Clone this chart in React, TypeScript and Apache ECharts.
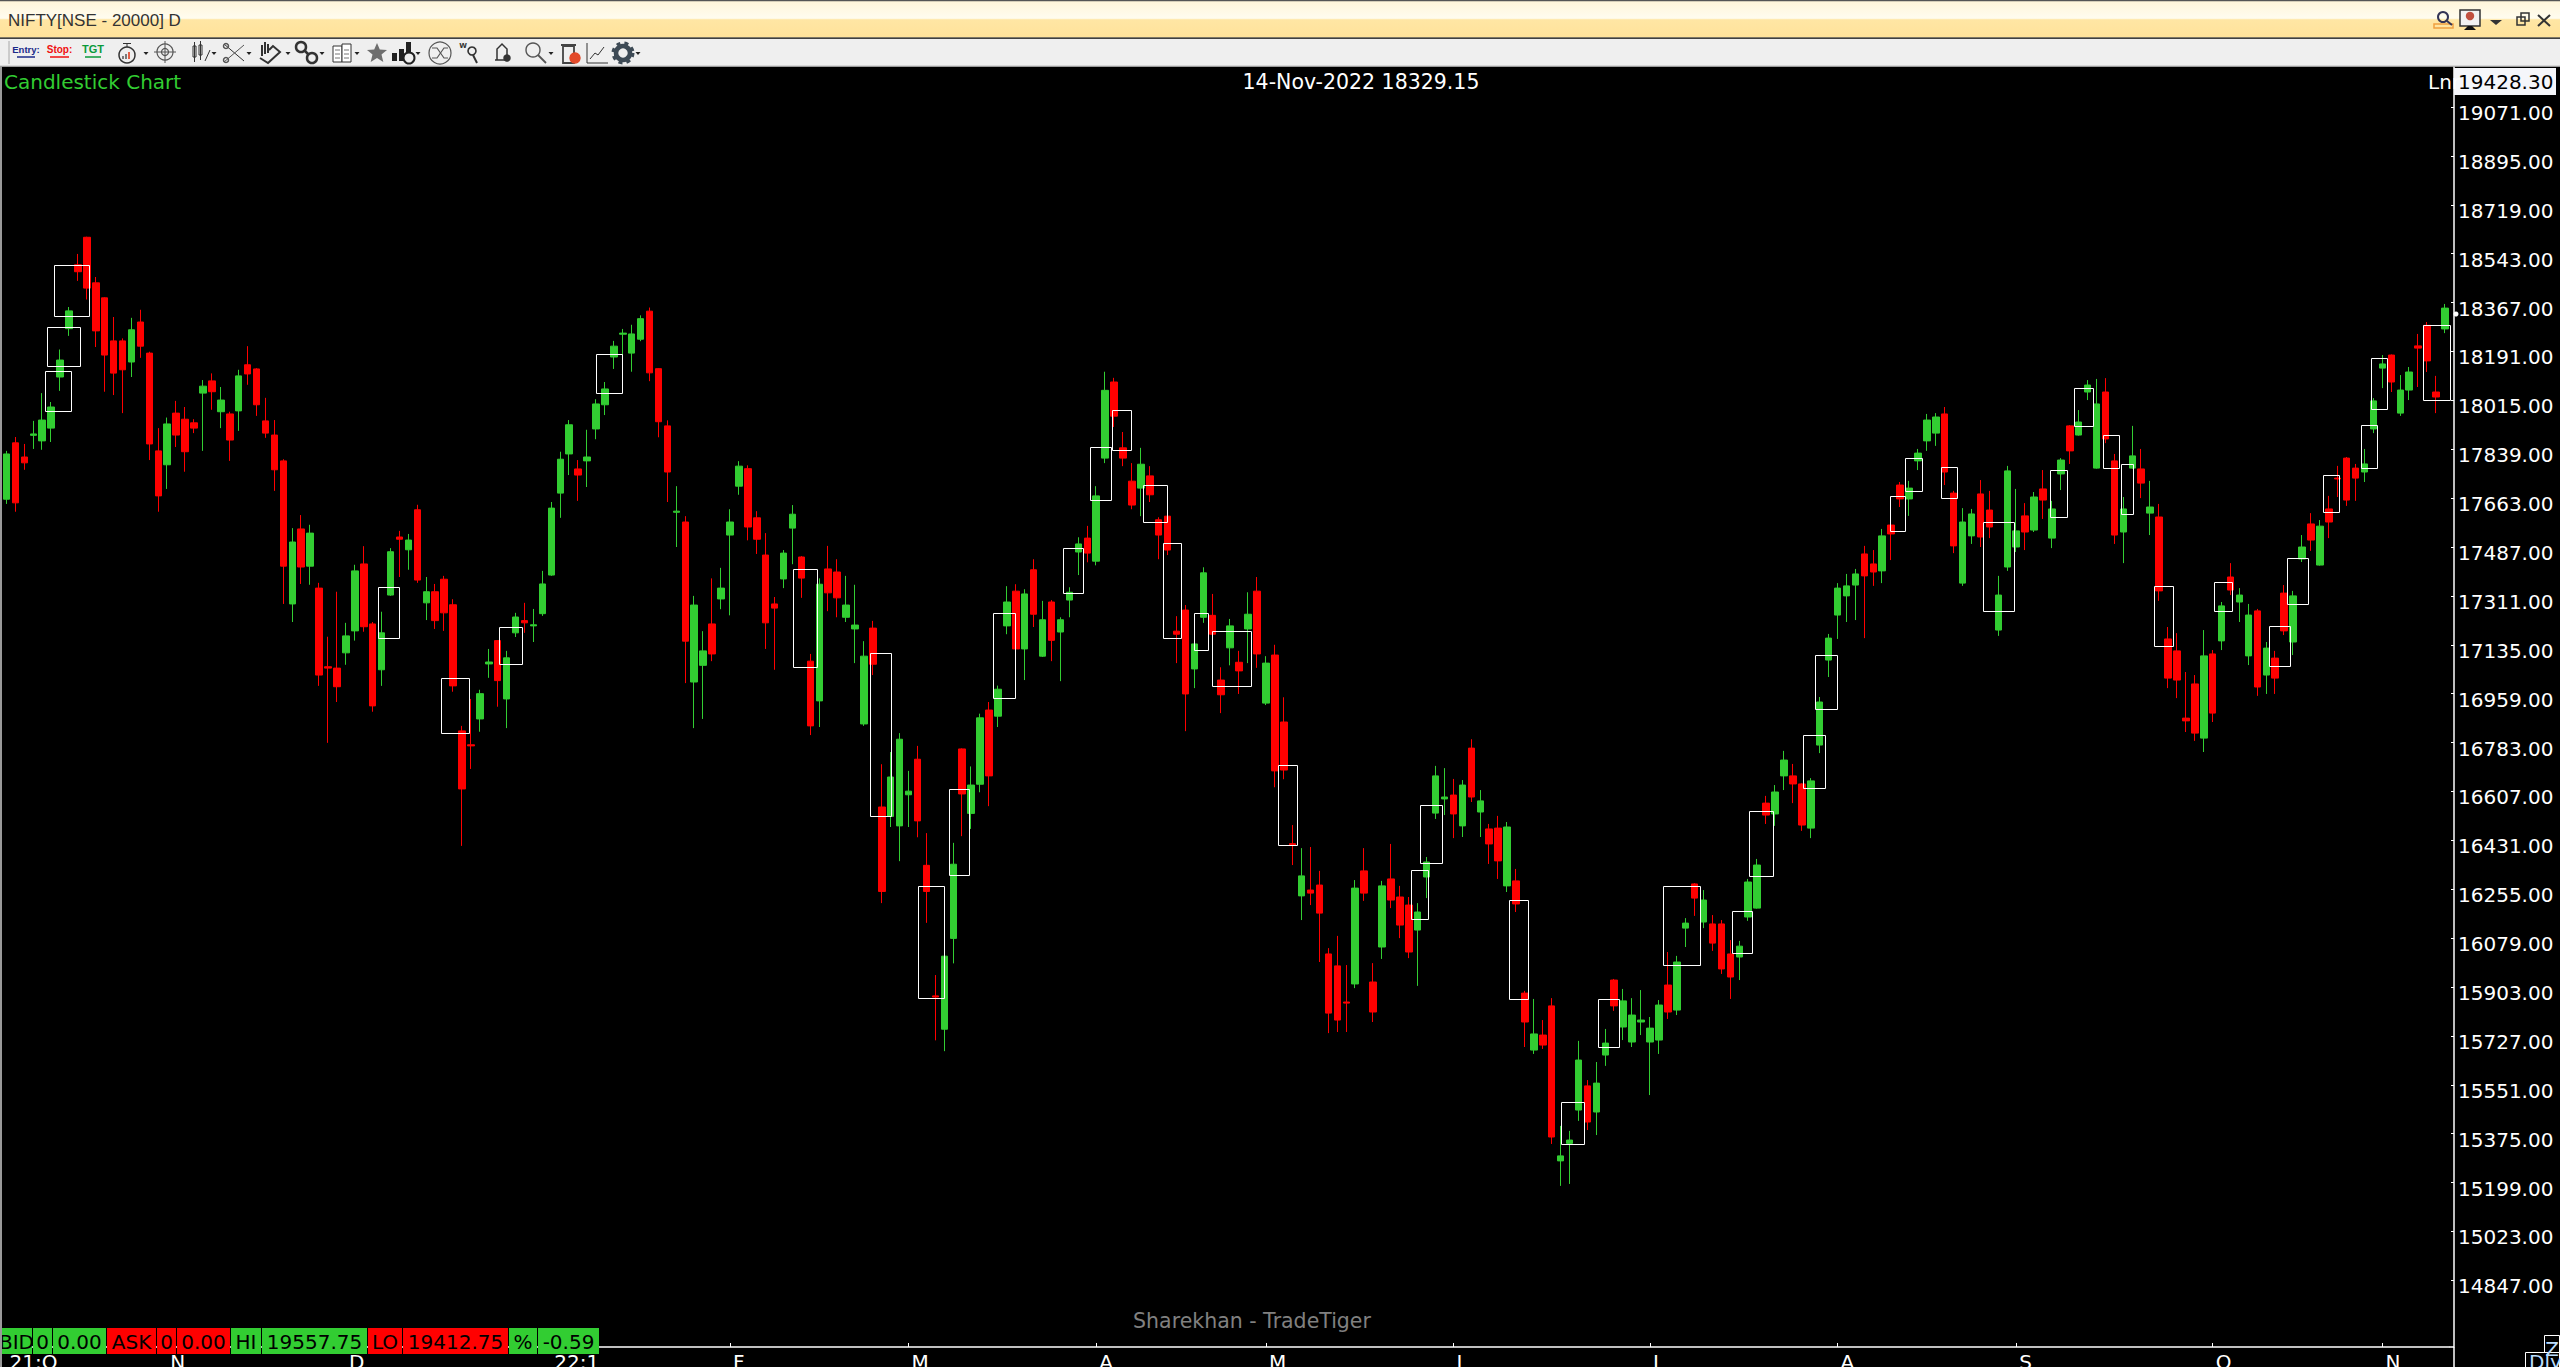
import React, { useEffect, useRef } from "react";
import * as echarts from "echarts";

const opens = [
17659,17862,17811,17889,17869,17915,18099,18273,18503,18602,18438,18384,18229,18229,18153,18297,18185,17833,17783,17969,
17947,17934,18041,18085,17974,17966,17977,18143,18128,17941,17890,17797,17282,17552,17418,17339,17056,17051,17106,17185,
17426,17210,17045,17314,17523,17477,17621,17286,17326,17371,17279,16825,16775,16868,17066,17150,16940,17178,17222,17203,
17247,17386,17681,17822,17768,17797,17912,17999,18171,18253,18185,18235,18336,18129,17923,17612,17577,17001,17061,17210,
17300,17530,17706,17769,17592,17458,17282,17372,17555,17451,17076,16933,17408,17397,17234,17192,16850,17195,16551,16517,
16483,16595,16723,16341,15871,15751,16078,16760,16528,16633,16900,16878,17203,17328,17120,17405,17094,17289,17181,17296,
17469,17519,17436,17807,18081,17844,17724,17699,17743,17585,17598,17184,17260,17048,17234,17241,17008,17124,17072,17192,
17328,16925,17098,16857,16419,16231,16252,16270,16022,15979,15849,15914,16321,15921,16047,16292,16227,16198,16108,16299,
16529,16580,16594,16483,16763,16533,16472,16475,16267,16285,15881,15676,15730,15835,15277,15340,15460,15547,15453,15658,
15928,15759,15705,15777,15705,15712,15910,15820,16115,16274,16137,16130,16130,16022,16011,16155,16187,16565,16526,16663,
16663,16634,16475,16774,17080,17242,17311,17350,17462,17426,17401,17566,17710,17660,17797,17869,17897,17966,17681,17357,
17527,17678,17620,17188,17415,17487,17599,17548,17696,17519,17750,17923,17890,18045,17771,18045,17797,17541,17771,17768,
17609,17595,17156,17113,16871,16994,16799,17102,17149,17379,17289,17095,17257,17026,17087,17321,17145,17444,17570,17422,
17624,17735,17807,17771,17757,17912,18131,18178,17969,18052,18211,18285,18045,18272];

const closes = [
17822,17646,17790,17894,17944,17991,18160,18337,18478,18419,18265,18178,18113,18125,18269,18210,17858,17671,17930,17890,
17830,17915,18066,18046,18016,17872,18103,18110,17999,17897,17765,17418,17505,17415,17537,17026,17051,16984,17167,17401,
17200,16915,17178,17470,17515,17512,17368,17326,17222,17250,16987,16616,16771,16959,17073,17006,17088,17235,17214,17207,
17354,17627,17803,17927,17746,17811,18002,18056,18210,18257,18254,18309,18114,17938,17757,17616,17148,17278,17113,17102,
17339,17577,17778,17559,17515,17214,17267,17465,17605,17375,16843,17353,17322,17304,17278,17206,17094,17065,16247,16659,
16795,16608,16501,16247,15867,16014,16345,16598,16630,16872,16663,16975,17289,17120,17318,17245,17225,17151,17225,17324,
17498,17465,17671,18051,17958,17807,17638,17785,17675,17530,17476,17173,16958,17138,17394,17173,16955,17203,17041,17245,
17102,17069,16681,16684,16414,16303,16241,16169,15809,15784,15845,16259,16241,15813,16267,16216,16126,16029,16173,16353,
16663,16587,16526,16630,16587,16573,16418,16357,16479,16202,15777,15734,15694,15363,15295,15352,15640,15417,15557,15701,
15835,15853,15802,15784,15755,15838,15813,15993,16133,16223,16216,16061,15968,15939,16050,16281,16342,16522,16605,16720,
16634,16486,16645,16929,17159,17339,17347,17390,17383,17397,17527,17534,17660,17699,17825,17944,17955,17757,17491,17577,
17606,17523,17559,17314,17761,17545,17541,17667,17656,17624,17800,17833,17937,18070,18002,17876,17530,17624,17815,17717,
17631,17329,17015,17008,16861,16817,17095,16889,17275,17332,17314,17242,16983,17123,17015,17185,17311,17487,17512,17562,
17577,17732,17656,17735,17786,18013,18146,18081,18052,18117,18203,18157,18027,18347];

const lows = [
17642,17614,17765,17840,17837,17865,18049,18247,18445,18378,18207,18046,18034,17969,18099,18168,17800,17614,17696,17847,
17758,17897,17833,17981,17915,17797,17905,18071,17959,17880,17689,17282,17217,17354,17351,16987,16782,16929,17063,17150,
17182,16894,16987,17311,17379,17405,17358,17224,17192,17185,16966,16411,16688,16822,17016,16912,16835,17163,17178,17145,
17239,17383,17592,17746,17653,17703,17875,17962,18128,18163,18118,18228,18084,17882,17649,17487,16997,16835,16868,17076,
17263,17241,17675,17511,17462,17120,17045,17339,17425,17304,16810,16839,17256,17234,17217,17069,16843,17026,16205,16479,
16356,16479,16442,16134,15711,15672,15988,16446,16472,16604,16554,16839,17173,17094,17008,17199,17091,17076,17004,17234,
17386,17432,17421,17789,17919,17778,17623,17598,17649,17443,17458,17069,16824,16979,17214,17148,16889,17061,16958,17069,
17052,16918,16622,16651,16342,16144,16198,15993,15737,15741,15741,15899,16213,15777,16004,16187,16079,16007,15907,16223,
16508,16522,16439,16443,16569,16443,16346,16292,16245,16173,15687,15662,15680,15338,15187,15194,15421,15388,15370,15619,
15817,15712,15687,15730,15514,15662,15788,15802,16047,16159,16115,16033,15950,15860,15928,16141,16185,16490,16483,16612,
16565,16465,16439,16745,17019,17156,17217,17224,17159,17347,17357,17440,17631,17599,17764,17833,17851,17710,17465,17347,
17498,17487,17519,17167,17401,17469,17476,17541,17588,17483,17692,17786,17888,18016,17769,17861,17498,17429,17769,17663,
17530,17293,16979,16943,16821,16789,16749,16857,17116,17314,17217,17062,16951,16958,16958,17170,17098,17433,17473,17420,
17519,17667,17635,17653,17721,17897,18059,18045,17959,18016,18063,18117,17969,18257];

const highs = [
17833,17883,17858,17941,18041,18009,18198,18351,18542,18604,18459,18386,18315,18238,18312,18341,18190,17915,17953,18013,
17991,17947,18088,18112,18063,17974,18125,18210,18131,18024,17944,17803,17555,17602,17567,17358,17164,17326,17214,17423,
17490,17217,17254,17483,17545,17534,17639,17379,17354,17383,17299,16843,16940,16973,17120,17152,17113,17250,17286,17264,
17401,17649,17830,17944,17800,17909,18019,18081,18229,18272,18287,18321,18349,18131,17943,17706,17598,17311,17184,17374,
17412,17623,17796,17781,17616,17537,17307,17476,17638,17454,17102,17374,17491,17443,17383,17351,17148,17221,16705,16749,
16817,16681,16771,16457,15946,16016,16422,16762,16697,16887,16929,16988,17346,17353,17335,17443,17293,17296,17234,17342,
17522,17563,17706,18118,18096,17901,17789,17844,17778,17594,17664,17238,17278,17188,17414,17318,17054,17228,17113,17324,
17379,17094,17135,16946,16486,16403,16407,16321,16043,16087,15982,16288,16403,15989,16285,16418,16267,16227,16205,16371,
16699,16691,16652,16648,16795,16612,16490,16519,16497,16328,15889,15860,15784,15863,15403,15385,15709,15568,15633,15752,
15932,15896,15863,15892,15795,15856,16029,16015,16151,16277,16252,16162,16144,16072,16069,16292,16364,16591,16630,16753,
16706,16636,16655,16947,17174,17357,17390,17408,17491,17476,17552,17568,17721,17725,17840,17966,17969,17991,17689,17627,
17624,17728,17689,17383,17779,17696,17645,17685,17764,17653,17807,17926,17980,18088,18092,18095,17822,17667,17923,17840,
17725,17642,17199,17177,17037,17026,17188,17116,17289,17429,17339,17282,17264,17145,17113,17350,17329,17530,17609,17584,
17671,17779,17811,17786,17840,18023,18178,18180,18106,18135,18254,18297,18103,18362];

// Pattern markers: first candle slot, last candle slot, upper price, lower price
const patternBoxes = [
[5.36,9.24,18503,18320],[4.49,8.28,18278,18137],[4.26,7.18,18119,17975],[41.55,43.93,17342,17161],
[48.6,51.75,17014,16816],[55.1,57.7,17198,17067],[66.05,68.9,18181,18040],[88.11,90.72,17407,17056],
[96.71,99.0,17107,16519],[102.0,105.0,16268,15865],[105.57,107.81,16617,16308],[110.5,112.9,17250,16945],
[118.23,120.47,17482,17320],[121.34,123.63,17846,17655],[123.81,125.87,17982,17835],[127.28,129.89,17712,17576],
[129.52,131.44,17502,17160],[132.9,134.5,17250,17115],[134.92,139.3,17186,16988],[142.41,144.45,16703,16413],
[157.3,159.2,16323,16149],[158.2,160.68,16560,16348],[168.17,170.4,16215,15861],[174.07,176.58,15488,15339],
[178.14,180.5,15859,15688],[185.5,189.56,16265,15983],[193.13,195.37,16175,16027],[195.05,197.74,16535,16304],
[201.17,203.55,16809,16621],[202.52,204.9,17098,16905],[210.91,212.52,17669,17546],[212.59,214.42,17806,17690],
[216.53,218.35,17774,17665],[221.32,224.71,17576,17258],[228.82,230.65,17763,17596],[231.5,233.57,18058,17924],
[234.76,236.5,17889,17773],[236.68,238.05,17785,17607],[240.47,242.53,17345,17132],[247.1,249.16,17360,17258],
[253.27,255.6,17201,17060],[255.37,257.66,17446,17283],[259.4,261.18,17745,17614],[263.65,265.38,17925,17773],
[264.7,266.5,18166,17985],[270.59,273.56,18285,18017],
];

const yTicks = [19071,18895,18719,18543,18367,18191,18015,17839,17663,17487,17311,17135,16959,16783,16607,16431,16255,16079,15903,15727,15551,15375,15199,15023,14847];
const xTickSlots = [0,18,38,61,81,101,122,141,162,184,205,225,247,266];
const xTickLabels = ["21:O","N","D","22:1","F","M","A","M","J","J","A","S","O","N"];

const titleText = "NIFTY[NSE - 20000] D";
const chartName = "Candlestick Chart";
const crosshairText = "14-Nov-2022 18329.15";
const topPrice = "19428.30";
const watermark = "Sharekhan - TradeTiger";
const statusTexts = ["BID","0","0.00","ASK","0","0.00","HI","19557.75","LO","19412.75","%","-0.59"];
const statusColors = ["g","g","g","r","r","r","g","g","r","r","g","g"];
const statusEdges = [1,33,53,107,157,177,231,262,368,403,509,538,600];

const GREEN = "#32CD32";
const RED = "#FF0000";
const FONT = '"DejaVu Sans", sans-serif';
const INK = "#333333";

const L = 2, R = 2449.4, AXIS_X = 2454, TOP = 67, BOTTOM = 1347, W = 2560, H = 1367;
const Y_MIN = 14607, Y_MAX = 19215;

function line(x1: number, y1: number, x2: number, y2: number, stroke = INK, lineWidth = 1, z = 10) {
  return { type: "line", silent: true, z, shape: { x1, y1, x2, y2 }, style: { stroke, lineWidth } };
}
function circle(cx: number, cy: number, r: number, stroke = INK, fill = "none", lineWidth = 1.5) {
  return { type: "circle", silent: true, z: 10, shape: { cx, cy, r }, style: { stroke, fill, lineWidth } };
}
function rect(x: number, y: number, width: number, height: number, fill: any, stroke = "none", lineWidth = 1, z = 10) {
  return { type: "rect", silent: true, z, shape: { x, y, width, height }, style: { fill, stroke, lineWidth } };
}
function poly(points: number[][], fill = INK, stroke = "none", lineWidth = 1) {
  return { type: "polygon", silent: true, z: 10, shape: { points }, style: { fill, stroke, lineWidth } };
}
function pline(points: number[][], stroke = INK, lineWidth = 1.5) {
  return { type: "polyline", silent: true, z: 10, shape: { points }, style: { stroke, lineWidth, fill: "none" } };
}
function txt(text: string, x: number, y: number, size: number, fill: string, align = "left", family = FONT, weight = "normal", z = 11) {
  return {
    type: "text", silent: true, z, x, y,
    style: { text, fill, font: `${weight} ${size}px ${family}`, align, verticalAlign: "middle" },
  };
}

function chrome() {
  const els: any[] = [];
  // title bar
  els.push(rect(0, 0, W, 38, new echarts.graphic.LinearGradient(0, 0, 0, 1, [
    { offset: 0, color: "#FFF5D8" }, { offset: 0.48, color: "#FFFCEF" },
    { offset: 0.52, color: "#FFE6A4" }, { offset: 1, color: "#FFE29A" },
  ])));
  els.push(line(0, 0.5, W, 0.5, "#555555", 1.5), line(0, 38, W, 38, "#555555", 1.5));
  els.push(txt(titleText, 8, 20, 17, "#333333", "left", '"Liberation Sans", sans-serif'));
  // toolbar
  els.push(rect(0, 39, W, 27, "#EFEFEF"));
  els.push(line(0, 66, W, 66, "#CFCFCF", 1.5));
  els.push(line(9, 41, 9, 64, "#A8A8A8", 1));
  els.push(txt("Entry:", 26, 49, 9.5, "#1B2A8A", "center", '"Liberation Sans", sans-serif', "bold"));
  els.push(line(17, 57, 35, 57, "#1B2A8A", 1.5));
  els.push(txt("Stop:", 59.5, 49, 10, "#F01010", "center", '"Liberation Sans", sans-serif', "bold"));
  els.push(line(50, 57, 69, 57, "#F01010", 1.5));
  els.push(txt("TGT", 93, 49, 11, "#0A9A3A", "center", '"Liberation Sans", sans-serif', "bold"));
  els.push(line(85, 57, 101, 57, "#0A9A3A", 1.5));
  // stopwatch
  els.push(circle(127, 55, 8), line(127, 44, 127, 47), line(123, 43.5, 131, 43.5));
  els.push(line(123, 59, 123, 56, "#555", 1.5), line(126, 59, 126, 54, "#555", 1.5), line(129, 59, 129, 52, "#E03010", 1.5));
  // target
  els.push(circle(165, 52, 8, "#555", "none", 1.2), circle(165, 52, 3.5, "#555", "none", 1.2));
  els.push(line(165, 41, 165, 63, "#555"), line(154, 52, 176, 52, "#555"));
  // candles
  els.push(rect(193, 46, 3, 11, "none", INK), line(194.5, 42, 194.5, 62));
  els.push(rect(199, 45, 3, 10, "none", INK), line(200.5, 41, 200.5, 60));
  els.push(line(205, 61, 210, 50));
  // scissors and wrench
  els.push(line(224, 44, 244, 61), line(224, 62, 244, 45, "#555"), circle(226, 46, 2.5, "#555"), circle(226, 60, 2.5, "#555"));
  // hand
  els.push(pline([[260, 58], [268, 63], [280, 52], [273, 46], [269, 50]], INK, 2));
  els.push(line(262, 56, 262, 45, INK, 2), line(265, 54, 265, 42, INK, 2), line(268, 53, 268, 44, INK, 2));
  // chain
  els.push(circle(301, 47, 5, INK, "none", 2.5), circle(312, 58, 5, INK, "none", 2.5), line(304, 50, 309, 55, INK, 2.5));
  // book
  els.push(rect(333, 46, 9, 16, "#FFFFFF", INK), rect(342, 44, 9, 18, "#FFFFFF", INK));
  els.push(line(335, 50, 340, 50, "#777"), line(335, 54, 340, 54, "#777"), line(335, 58, 340, 58, "#777"));
  els.push(line(344, 50, 349, 50, "#777"), line(344, 54, 349, 54, "#777"), line(344, 58, 349, 58, "#777"));
  // star
  els.push(poly([[377, 43], [379.8, 49.5], [387, 50], [381.5, 54.6], [383.3, 62], [377, 58], [370.7, 62], [372.5, 54.6], [367, 50], [374.2, 49.5]], "#6E6E6E"));
  // bars and dial
  els.push(rect(392, 53, 5, 8, "#222"), rect(399, 49, 5, 12, "#222"), rect(406, 42, 5, 13, "#222"));
  els.push(circle(409, 58, 5.5, "#222", "#EFEFEF", 2));
  // swap circle
  els.push(circle(440, 53, 11, "#555", "none", 1.2), pline([[432, 48], [437, 48], [444, 58], [448, 58]], "#555", 1.2), pline([[432, 58], [437, 58], [444, 48], [448, 48]], "#555", 1.2));
  // W search
  els.push(txt("W", 463, 46, 7, INK, "center", FONT, "bold"), circle(472, 51, 4, INK, "none", 1.6), line(473, 55, 477, 63, INK, 2));
  // bell
  els.push(pline([[497, 60], [497, 49], [502, 44], [507, 49], [507, 60], [495, 60]], INK, 1.5), circle(507, 58, 3, INK, INK));
  // magnifier
  els.push(circle(533, 50, 7, "#555", "none", 1.4), line(538, 55, 546, 63, "#555", 1.8));
  // trash
  els.push(rect(563, 46, 11, 17, "none", "#444", 1.8), line(561, 45, 576, 45, "#444", 2), circle(575, 58, 5, "#E24A2A", "#E24A2A"));
  // line chart
  els.push(pline([[587, 43], [587, 63], [608, 63]], INK, 1), pline([[590, 59], [595, 53], [598, 55], [604, 47]], INK, 1));
  // gear
  els.push(circle(623, 53, 7, "#3D4A55", "none", 4.5));
  els.push({ type: "circle", silent: true, z: 10, shape: { cx: 623, cy: 53, r: 10 }, style: { stroke: "#3D4A55", fill: "none", lineWidth: 3, lineDash: [4, 4] } });
  // drop arrows
  for (const x of [146, 214, 249, 288, 322, 357, 418, 551, 638]) {
    els.push(poly([[x - 2.5, 52], [x + 2.5, 52], [x, 55]], "#222"));
  }
  // window controls
  els.push(rect(2434, 24, 19, 4, "none", "#F0A040", 1.5), circle(2443, 17, 5, "#335", "none", 2), line(2447, 21, 2452, 25, "#335", 2));
  els.push(rect(2460, 10, 20, 16, "#F2F2F2", "#333", 1.5), circle(2470, 16, 3.5, "#C05040", "#C05040"), poly([[2464, 30], [2476, 30], [2472, 26], [2468, 26]], "#111"));
  els.push(poly([[2490, 20], [2502, 20], [2496, 25]], "#333"));
  els.push(rect(2517, 17, 8, 8, "none", "#333", 1.5), rect(2521, 13, 8, 8, "none", "#333", 1.5));
  els.push(line(2538, 15, 2550, 26, "#333", 2), line(2550, 15, 2538, 26, "#333", 2));

  // chart headings
  els.push(txt(chartName, 4, 82, 20, GREEN));
  els.push(txt(crosshairText, 1361, 82, 20.5, "#FFFFFF", "center"));
  els.push(txt("Lnr", 2428, 82, 20, "#FFFFFF"));
  els.push(rect(AXIS_X, 68, 102, 27, "#F5F6FA"));
  els.push(txt(topPrice, 2458, 82, 20, "#000000"));
  els.push(txt(watermark, 1252, 1321, 20.5, "#808080", "center"));

  // status bar
  statusTexts.forEach((t, i) => {
    const x0 = statusEdges[i], x1 = statusEdges[i + 1];
    els.push(rect(x0, 1328, x1 - x0 - 1, 26, statusColors[i] === "g" ? GREEN : RED));
    els.push(txt(t, (x0 + x1) / 2 - 0.5, 1342, 20, "#000000", "center"));
  });
  els.push(rect(33, 1328, 19, 26, GREEN, "none", 1, 12));
  els.push(txt(statusTexts[1], 42.5, 1342, 20, "#000000", "center", FONT, "normal", 13));
  els.push(rect(0, 1328, 1, 26, "#000000", "none", 1, 12));

  // frame and axis extensions
  els.push(line(1, TOP, 1, H, "#9A9A9A", 2, 14));
  els.push(line(R, BOTTOM, AXIS_X, BOTTOM, "#FFFFFF", 1.5));
  els.push(line(AXIS_X, BOTTOM, AXIS_X, H, "#FFFFFF", 1.5));
  els.push(circle(2456, 314, 2.5, "#FFFFFF", "#FFFFFF", 0));

  // lower-right buttons
  els.push(rect(2544.5, 1335.5, 15, 20, "#000", "#FFFFFF"));
  els.push(txt("Z", 2552, 1349, 20, "#BBDDFF", "center"));
  els.push(rect(2525.5, 1352.5, 34, 20, "#000", "#FFFFFF"));
  els.push(txt("Dly", 2529, 1362, 20, "#BBDDFF"));
  return els;
}

export default function App() {
  const ref = useRef<HTMLDivElement>(null);
  useEffect(() => {
    document.body.style.margin = "0";
    document.body.style.background = "#000";
    const chart = echarts.init(ref.current!, undefined, { renderer: "svg" });
    const candles = opens.map((o, i) => [o, closes[i], lows[i], highs[i]]);
    const slots = opens.map((_, i) => String(i));
    chart.setOption({
      animation: false,
      backgroundColor: "#000000",
      grid: { left: L, right: W - R, top: TOP, bottom: H - BOTTOM, outerBoundsMode: "none", containLabel: false },
      xAxis: [
        { type: "category", data: slots, show: false, boundaryGap: true },
        {
          type: "value", min: -0.5, max: opens.length - 0.5, position: "bottom", splitLine: { show: false },
          axisLine: { show: true, onZero: false, lineStyle: { color: "#FFFFFF", width: 1.5 } },
          axisTick: { show: true, inside: true, length: 4, customValues: xTickSlots, lineStyle: { color: "#FFFFFF", width: 1 } },
          axisLabel: {
            show: true, customValues: xTickSlots, color: "#FFFFFF", fontFamily: FONT, fontSize: 20, margin: 5,
            align: "left", verticalAlign: "top", padding: [0, 0, 0, 3], showMinLabel: true, showMaxLabel: true,
            formatter: (v: number) => xTickLabels[xTickSlots.indexOf(v)] ?? "",
          },
        },
      ],
      yAxis: {
        type: "value", position: "right", offset: AXIS_X - R, min: Y_MIN, max: Y_MAX, splitLine: { show: false }, scale: true,
        axisLine: { show: true, onZero: false, lineStyle: { color: "#FFFFFF", width: 1.5 } },
        axisTick: { show: true, inside: true, length: 3, customValues: yTicks, lineStyle: { color: "#FFFFFF", width: 1 } },
        axisLabel: {
          show: true, customValues: yTicks, color: "#FFFFFF", fontFamily: FONT, fontSize: 20, margin: 4,
          verticalAlign: "top", lineHeight: 12, showMinLabel: true, showMaxLabel: true,
          formatter: (v: number) => v.toFixed(2),
        },
      },
      graphic: { elements: chrome() },
      series: [
        {
          type: "candlestick", xAxisIndex: 0, yAxisIndex: 0, data: candles, barWidth: 7, clip: false,
          itemStyle: { color: GREEN, color0: RED, borderColor: GREEN, borderColor0: RED, borderWidth: 1 },
        },
        {
          type: "custom", xAxisIndex: 1, yAxisIndex: 0, data: patternBoxes, silent: true, z: 5, clip: false,
          encode: { x: [0, 1], y: [2, 3] },
          renderItem: (_p: any, api: any) => {
            const a = api.coord([api.value(0), api.value(2)]);
            const b = api.coord([api.value(1), api.value(3)]);
            const x0 = Math.round(a[0]) + 0.5, y0 = Math.round(a[1]) + 0.5;
            const x1 = Math.round(b[0]) + 0.5, y1 = Math.round(b[1]) + 0.5;
            return {
              type: "rect",
              shape: { x: x0, y: y0, width: x1 - x0, height: y1 - y0 },
              style: { fill: "none", stroke: "#FFFFFF", lineWidth: 1 },
            };
          },
        },
      ],
    });
    return () => chart.dispose();
  }, []);
  return <div ref={ref} style={{ position: "fixed", left: 0, top: 0, width: W, height: H }} />;
}
